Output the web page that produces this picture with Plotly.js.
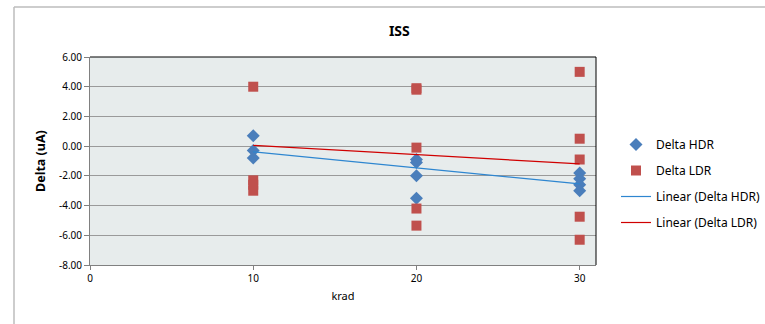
<!DOCTYPE html>
<html>
<head>
<meta charset="utf-8">
<script src="https://cdn.plot.ly/plotly-3.0.1.min.js"></script>
<style>html,body{margin:0;padding:0;background:#fff;}#chart{width:765px;height:324px;}</style>
</head>
<body>
<div id="chart"></div>
<script>
const hdrX = [10, 10, 10, 20, 20, 20, 20, 30, 30, 30, 30];
const hdrY = [0.70, -0.30, -0.80, -0.90, -1.10, -2.00, -3.50, -1.80, -2.20, -2.60, -3.00];
const ldrX = [10, 10, 10, 10, 20, 20, 20, 20, 20, 30, 30, 30, 30, 30];
const ldrY = [4.00, -2.30, -2.60, -3.00, 3.90, 3.80, -0.10, -4.20, -5.35, 5.00, 0.50, -0.90, -4.75, -6.30];
const trendX = [10, 30];
const hdrTrend = [-0.38, -2.54];
const ldrTrend = [0.05, -1.19];
const yTicks = [-8, -6, -4, -2, 0, 2, 4, 6];
const yTickText = yTicks.map(v => v.toFixed(2));
const xTicks = [0, 10, 20, 30];

const font = "Noto Sans, DejaVu Sans, sans-serif";
const traces = [
  {x: hdrX, y: hdrY, mode: 'markers', type: 'scatter', name: 'Delta HDR', legendgroup: 'a',
   marker: {symbol: 'diamond', size: 10, color: '#4A7EBB'}},
  {x: ldrX, y: ldrY, mode: 'markers', type: 'scatter', name: 'Delta LDR', legendgroup: 'b',
   marker: {symbol: 'square', size: 10, color: '#C0504D'}},
  {x: trendX, y: hdrTrend, mode: 'lines', type: 'scatter', name: 'Linear (Delta HDR)', legendgroup: 'c',
   line: {color: '#2E86D0', width: 1.2}},
  {x: trendX, y: ldrTrend, mode: 'lines', type: 'scatter', name: 'Linear (Delta LDR)', legendgroup: 'd',
   line: {color: '#D00000', width: 1.2}}
];
const L = 90, R = 596, T = 57, B = 265;
const px = v => (v - L) / (R - L);
const py = v => (B - v) / (B - T);
const layout = {
  width: 765, height: 324,
  margin: {l: L, r: 765 - R, t: T, b: 324 - B, autoexpand: false},
  paper_bgcolor: '#ffffff', plot_bgcolor: '#E7ECEC',
  font: {family: font, size: 10, color: '#000'},
  title: {text: '<b>ISS</b>', font: {family: font, size: 14, color: '#000'}, x: 0.522, xanchor: 'center', y: 0.905, yanchor: 'middle'},
  showlegend: true,
  legend: {x: px(616), xanchor: 'left', y: py(130), yanchor: 'top', font: {family: font, size: 12, color: '#000'},
           tracegroupgap: 7, traceorder: 'grouped', bgcolor: 'rgba(0,0,0,0)', itemwidth: 30},
  xaxis: {range: [0, 31], tickvals: xTicks, ticktext: xTicks.map(String), showgrid: false, zeroline: false,
          showline: true, linecolor: '#808080', linewidth: 1, ticks: 'outside', ticklen: 4, tickcolor: '#808080',
          tickfont: {family: font, size: 10}, title: {text: 'krad', font: {family: font, size: 11}, standoff: 8}},
  yaxis: {range: [-8, 6], tickvals: yTicks, ticktext: yTickText, showgrid: true, gridcolor: '#9A9A9A', gridwidth: 1,
          zeroline: false, showline: true, linecolor: '#808080', linewidth: 1, ticks: 'outside', ticklen: 5, tickcolor: '#808080',
          tickfont: {family: font, size: 10}, title: {text: '<b>Delta (uA)</b>', font: {family: font, size: 12.5}, standoff: 10}},
  shapes: [
    {type: 'line', xref: 'paper', yref: 'paper', x0: px(14), x1: px(800), y0: py(7), y1: py(7),
     line: {color: '#BDBDBD', width: 1.5}, layer: 'below'},
    {type: 'line', xref: 'paper', yref: 'paper', x0: px(14), x1: px(14), y0: py(7), y1: py(340),
     line: {color: '#BDBDBD', width: 1.5}, layer: 'below'},
    {type: 'line', xref: 'paper', yref: 'paper', x0: 0, x1: 1, y0: 1, y1: 1, line: {color: '#000', width: 1}},
    {type: 'line', xref: 'paper', yref: 'paper', x0: 1, x1: 1, y0: 0, y1: 1, line: {color: '#000', width: 1}}
  ]
};
Plotly.newPlot('chart', traces, layout, {displayModeBar: false, staticPlot: true});
</script>
</body>
</html>
